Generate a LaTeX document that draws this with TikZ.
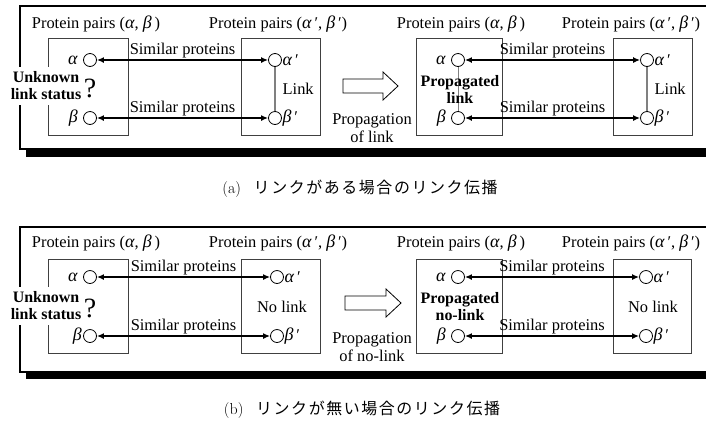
\documentclass[tikz,border=0pt]{standalone}
\usepackage{fontspec}
\newfontfamily\tnr{Liberation Serif}
\newfontfamily\jp{Noto Sans CJK JP}[LetterSpace=10]
\usetikzlibrary{arrows.meta}

\newcommand\galpha{{\fontsize{18}{18}\selectfont\textit{α}}}
\newcommand\gbeta{{\fontsize{18}{18}\selectfont\textit{β}}}

\tikzset{
  txt/.style={font=\tnr\fontsize{16.5}{18}\selectfont, inner sep=1bp},
  bold/.style={font=\tnr\bfseries\fontsize{16}{17}\selectfont, align=center},
  pairbox/.style={draw=black!75, line width=0.8bp},
  prot/.style={draw, circle, fill=white, minimum size=13bp, inner sep=0pt, line width=0.8bp},
  sim/.style={{Latex[length=7bp,width=6bp]}-{Latex[length=7bp,width=6bp]}, line width=1.8bp},
  linkline/.style={draw=black!50, line width=1.3bp},
  frame/.style={line width=1.2bp},
  hollow/.style={draw, line width=0.8bp, fill=white},
  caption/.style={font=\fontsize{16}{18}\selectfont}
}

\begin{document}
\begin{tikzpicture}[x=1bp, y=-1bp]
\useasboundingbox (0,0) rectangle (706,424);

\draw [frame] (706,6) -| (20,149) -- (706,149);
\fill (26,149) rectangle (706,157);
\draw [pairbox] (48,38) rectangle (128,135);
\draw [pairbox] (241,38) rectangle (320,135);
\draw [pairbox] (416,38) rectangle (502,135);
\draw [pairbox] (613,38) rectangle (692,135);

\node (pp1) [txt] at (96,24) {Protein pairs (\galpha, \gbeta\,)};
\node (pp2) [txt] at (278,24) {Protein pairs (\galpha\,′, \gbeta\,′)};
\node (pp3) [txt] at (461,24) {Protein pairs (\galpha, \gbeta\,)};
\node (pp4) [txt] at (631,24) {Protein pairs (\galpha\,′, \gbeta\,′)};

\node (al1) [prot, label={[txt, label distance=4bp]left:\galpha}] at (90,60) {};
\node (be1) [prot, label={[txt, label distance=4bp]left:\gbeta}] at (90,118) {};
\node (al2) [prot, label={[txt, inner sep=0.5bp]right:\galpha\,′}] at (275,60) {};
\node (be2) [prot, label={[txt, inner sep=0.5bp]right:\gbeta\,′}] at (275,118) {};
\node (al3) [prot, label={[txt, label distance=4bp]left:\galpha}] at (458,60) {};
\node (be3) [prot, label={[txt, label distance=4bp]left:\gbeta}] at (458,118) {};
\node (al4) [prot, label={[txt, inner sep=0.5bp]right:\galpha\,′}] at (647,60) {};
\node (be4) [prot, label={[txt, inner sep=0.5bp]right:\gbeta\,′}] at (647,118) {};

\draw [sim] (al1) -- node [txt, above] {Similar proteins} (al2);
\draw [sim] (be1) -- node [txt, above] {Similar proteins} (be2);
\draw [sim] (al3) -- node [txt, above] {Similar proteins} (al4);
\draw [sim] (be3) -- node [txt, above] {Similar proteins} (be4);
\draw [linkline] (al2) -- node [txt, right=6bp] {Link} (be2);
\draw [linkline] (al4) -- node [txt, right=6bp] {Link} (be4);
\draw [draw=black!50, line width=0.6bp] (al3) -- (be3);

\node (unk1) [bold, fill=white, inner xsep=2bp, inner ysep=5bp] at (46,86) {Unknown\\link status};
\node (q1) [font=\tnr\fontsize{28}{28}\selectfont, inner sep=0pt] at (90,88) {?};
\node (prg1) [bold, inner sep=0pt] at (460,89) {Propagated\\link};

\draw [hollow] (343,79) -- (383,79) -- (383,72) -- (398,86) -- (383,100) -- (383,93) -- (343,93) -- cycle;
\node (how1) [txt, align=center] at (372,128) {Propagation\\of link};

\node (cap1) [caption] at (360,189) {(a)\hspace{0.8em}{\jp リンクがある場合のリンク伝播}};

\draw [frame] (706,227) -| (20,372) -- (706,372);
\fill (26,372) rectangle (706,379);
\draw [pairbox] (48,259) rectangle (128,353);
\draw [pairbox] (241,259) rectangle (320,353);
\draw [pairbox] (416,259) rectangle (502,353);
\draw [pairbox] (613,259) rectangle (691,353);

\node (pp5) [txt] at (96,243) {Protein pairs (\galpha, \gbeta\,)};
\node (pp6) [txt] at (278,243) {Protein pairs (\galpha\,′, \gbeta\,′)};
\node (pp7) [txt] at (461,243) {Protein pairs (\galpha, \gbeta\,)};
\node (pp8) [txt] at (631,243) {Protein pairs (\galpha\,′, \gbeta\,′)};

\node (al5) [prot, label={[txt, label distance=4bp]left:\galpha}] at (90,277) {};
\node (be5) [prot, label={[txt, label distance=0bp]left:\gbeta}] at (90,336) {};
\node (al6) [prot, label={[txt, inner sep=0.5bp]right:\galpha\,′}] at (277,277) {};
\node (be6) [prot, label={[txt, inner sep=0.5bp]right:\gbeta\,′}] at (277,336) {};
\node (al7) [prot, label={[txt, label distance=4bp]left:\galpha}] at (458,277) {};
\node (be7) [prot, label={[txt, label distance=4bp]left:\gbeta}] at (458,336) {};
\node (al8) [prot, label={[txt, inner sep=0.5bp]right:\galpha\,′}] at (646,277) {};
\node (be8) [prot, label={[txt, inner sep=0.5bp]right:\gbeta\,′}] at (646,336) {};

\draw [sim] (al5) -- node [txt, above] {Similar proteins} (al6);
\draw [sim] (be5) -- node [txt, above] {Similar proteins} (be6);
\draw [sim] (al7) -- node [txt, above] {Similar proteins} (al8);
\draw [sim] (be7) -- node [txt, above] {Similar proteins} (be8);
\node (nol1) [txt] at (282,307) {No link};
\node (nol2) [txt] at (653,307) {No link};

\node (unk2) [bold, fill=white, inner xsep=2bp, inner ysep=5bp] at (46,306) {Unknown\\link status};
\node (q2) [font=\tnr\fontsize{28}{28}\selectfont, inner sep=0pt] at (90,308) {?};
\node (prg2) [bold, inner sep=0pt] at (460,307) {Propagated\\no-link};

\draw [hollow] (345,296) -- (386,296) -- (386,289) -- (401,303) -- (386,317) -- (386,310) -- (345,310) -- cycle;
\node (how2) [txt, align=center] at (372,347) {Propagation\\of no-link};

\node (cap2) [caption] at (362,410) {(b)\hspace{0.8em}{\jp リンクが無い場合のリンク伝播}};
\end{tikzpicture}
\end{document}
